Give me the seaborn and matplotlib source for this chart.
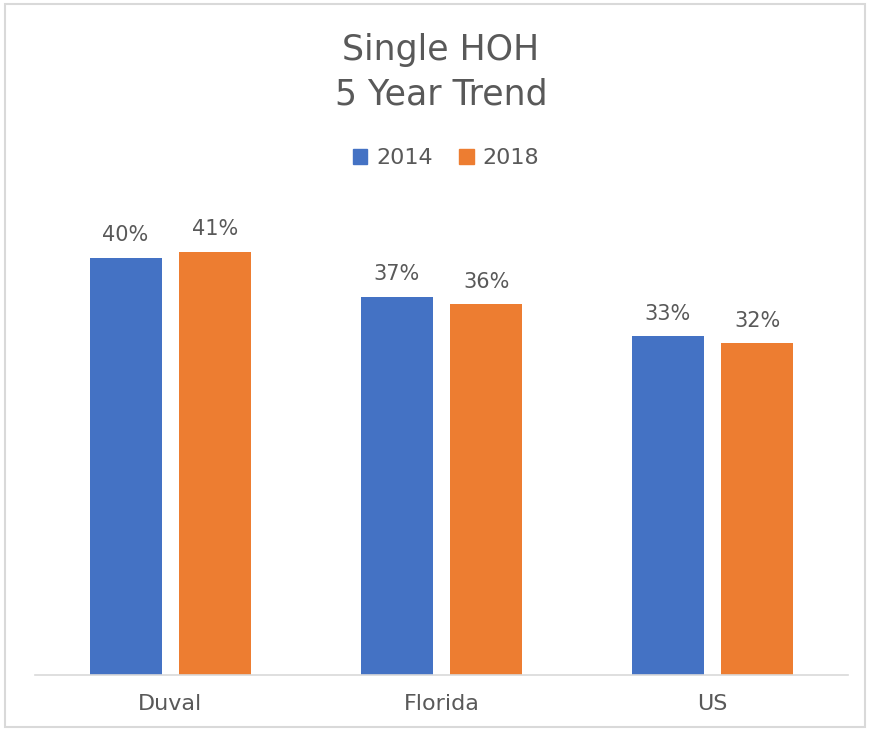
import numpy as np
import pandas as pd
import matplotlib.pyplot as plt
import seaborn as sns
from matplotlib.patches import Rectangle

# data
regions = ["Duval", "Florida", "US"]
years = ["2014", "2018"]
share_2014 = [40.4, 36.6, 32.8]
share_2018 = [41.0, 35.9, 32.1]

df = pd.DataFrame({
    "region": regions * 2,
    "year": [years[0]] * 3 + [years[1]] * 3,
    "share": share_2014 + share_2018,
})

sns.set_theme(style="white")
plt.rcParams['font.family'] = ['DejaVu Sans']
grey = "#595959"
palette = {"2014": "#4472C4", "2018": "#ED7D31"}

fig = plt.figure(figsize=(8.69, 7.31), dpi=100)
ax = fig.add_axes([35/869, 56/731, 813/869, 480/731])

sns.barplot(data=df, x="region", y="share", hue="year", palette=palette,
            width=0.664, gap=0.2, saturation=1, linewidth=0, ax=ax, legend=False)

for cont in ax.containers:
    ax.bar_label(cont, fmt=lambda v: f"{v:.0f}%", padding=9,
                 fontsize=15, color=grey)

ax.set_ylim(0, 46.47)
ax.set_xlabel("")
ax.set_ylabel("")
ax.set_yticks([])
sns.despine(ax=ax, left=True, top=True, right=True)
ax.spines["bottom"].set_color("#D9D9D9")
ax.spines["bottom"].set_linewidth(1.2)
ax.tick_params(axis="x", length=0, pad=14, labelsize=16, labelcolor=grey)

# title
fig.text(441/869, 1 - 33/731, "Single HOH\n5 Year Trend", ha="center", va="top",
         fontsize=25, color=grey, linespacing=1.4)

# legend
handles = [Rectangle((0, 0), 1, 1, color=palette[y]) for y in years]
fig.legend(handles, years, loc="center", bbox_to_anchor=(446/869, 1 - 158/731),
           ncol=2, frameon=False, fontsize=16, labelcolor=grey,
           handlelength=0.65, handleheight=0.65, handletextpad=0.4,
           columnspacing=1.2)

# light outer border of the chart area
fig.patches.append(Rectangle((5/869, 4/731), 860/869, 723/731, transform=fig.transFigure,
                             fill=False, edgecolor="#D9D9D9", linewidth=1.5))

fig.savefig("out.png", dpi=100)
